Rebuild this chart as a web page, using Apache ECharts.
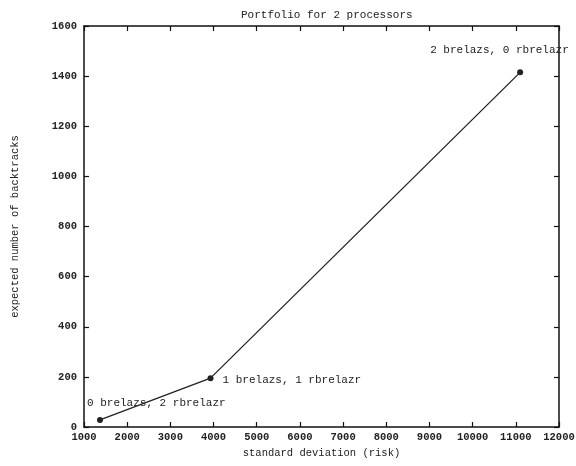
<!DOCTYPE html>
<html>
<head>
<meta charset="utf-8">
<script src="https://cdn.jsdelivr.net/npm/echarts@6/dist/echarts.min.js"></script>
<style>html,body{margin:0;padding:0;background:#fff;}#c{width:576px;height:466px;}</style>
</head>
<body>
<div id="c"></div>
<script>
var stdDev = [1370, 3930, 11100];
var backtracks = [28, 195, 1415];
var pointLabels = ['0 brelazs, 2 rbrelazr', '1 brelazs, 1 rbrelazr', '2 brelazs, 0 rbrelazr'];
var labelOffsets = [[-21, -17], [4, 2], [-98, -22]];
var titleText = 'Portfolio for 2 processors';
var xName = 'standard deviation (risk)';
var yName = 'expected number of backtracks';

var FONT = '"Liberation Mono", "DejaVu Sans Mono", monospace';
var chart = echarts.init(document.getElementById('c'));

var data = stdDev.map(function (x, i) {
  return {
    value: [x, backtracks[i]],
    label: { show: true, formatter: pointLabels[i], position: 'right', offset: labelOffsets[i] }
  };
});

var plain = function (v) { return String(v); };
var axisLineStyle = { color: '#111', width: 1.5 };
var tickStyle = { show: true, inside: true, length: 5, lineStyle: { color: '#111', width: 1.2 } };
var labelStyle = { fontFamily: FONT, fontSize: 10.5, fontWeight: 'bold', color: '#222', formatter: plain };

chart.setOption({
  backgroundColor: '#fff',
  animation: false,
  title: {
    text: titleText, left: 236, top: 5,
    textStyle: { fontFamily: FONT, fontSize: 11, fontWeight: 'normal', color: '#222' }
  },
  grid: { left: 84, right: 17, top: 26, bottom: 39, containLabel: false, outerBoundsMode: 'none' },
  xAxis: [{
    type: 'value', min: 1000, max: 12000, interval: 1000,
    name: xName, nameLocation: 'middle', nameGap: 19,
    nameTextStyle: { fontFamily: FONT, fontSize: 10.5, color: '#222' },
    axisLine: { show: true, onZero: false, lineStyle: axisLineStyle },
    axisTick: tickStyle,
    axisLabel: Object.assign({ margin: 5 }, labelStyle),
    splitLine: { show: false }
  }, {
    type: 'value', position: 'top', min: 1000, max: 12000, interval: 1000,
    axisLine: { show: true, onZero: false, lineStyle: axisLineStyle },
    axisTick: tickStyle, axisLabel: { show: false }, splitLine: { show: false }
  }],
  yAxis: [{
    type: 'value', min: 0, max: 1600, interval: 200,
    name: yName, nameLocation: 'middle', nameGap: 63, nameRotate: 90,
    nameTextStyle: { fontFamily: FONT, fontSize: 10.5, color: '#222' },
    axisLine: { show: true, onZero: false, lineStyle: axisLineStyle },
    axisTick: tickStyle,
    axisLabel: Object.assign({ margin: 7 }, labelStyle),
    splitLine: { show: false }
  }, {
    type: 'value', position: 'right', min: 0, max: 1600, interval: 200,
    axisLine: { show: true, onZero: false, lineStyle: axisLineStyle },
    axisTick: tickStyle, axisLabel: { show: false }, splitLine: { show: false }
  }],
  series: [{
    type: 'line',
    data: data,
    symbol: 'circle', symbolSize: 6,
    itemStyle: { color: '#222' },
    lineStyle: { color: '#222', width: 1.3 },
    label: { fontFamily: FONT, fontSize: 11, color: '#222' },
    z: 1
  }]
});
</script>
</body>
</html>
